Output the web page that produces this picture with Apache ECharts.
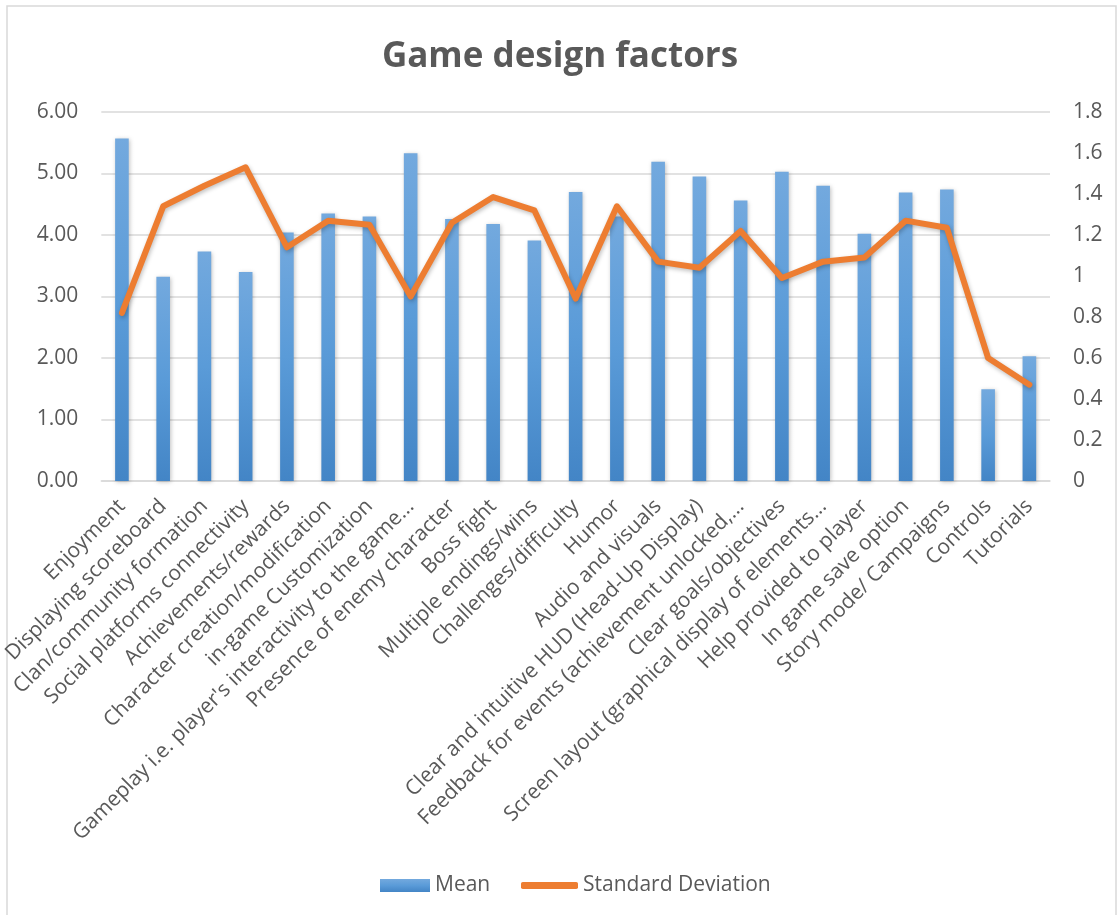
<!DOCTYPE html>
<html>
<head>
<meta charset="utf-8">
<script src="https://cdn.jsdelivr.net/npm/echarts@6/dist/echarts.min.js"></script>
<style>
  html, body { margin: 0; padding: 0; background: #ffffff; }
  #chart { width: 1120px; height: 915px; }
</style>
</head>
<body>
<div id="chart"></div>
<script>
// Survey results: mean rating and standard deviation per game design factor
const categories = [
  'Enjoyment',
  'Displaying scoreboard',
  'Clan/community formation',
  'Social platforms connectivity',
  'Achievements/rewards',
  'Character creation/modification',
  'in-game Customization',
  "Gameplay i.e. player's interactivity to the game...",
  'Presence of enemy character',
  'Boss fight',
  'Multiple endings/wins',
  'Challenges/difficulty',
  'Humor',
  'Audio and visuals',
  'Clear and intuitive HUD (Head-Up Display)',
  'Feedback for events (achievement unlocked,...',
  'Clear goals/objectives',
  'Screen layout (graphical display of elements...',
  'Help provided to player',
  'In game save option',
  'Story mode/ Campaigns',
  'Controls',
  'Tutorials'
];

const meanValues = [
  5.57, 3.32, 3.73, 3.40, 4.04, 4.35, 4.30, 5.33, 4.26, 4.18, 3.91, 4.70,
  4.30, 5.19, 4.95, 4.56, 5.03, 4.80, 4.02, 4.69, 4.74, 1.49, 2.03
];

const sdValues = [
  0.82, 1.34, 1.44, 1.53, 1.14, 1.27, 1.25, 0.90, 1.26, 1.385, 1.32, 0.89,
  1.34, 1.07, 1.04, 1.22, 0.99, 1.07, 1.09, 1.27, 1.235, 0.60, 0.47
];

const leftTicks = { min: 0, max: 6, step: 1 };
const rightTicks = { min: 0, max: 1.8, step: 0.2 };

const TEXT = '#595959';
const GRID = '#d9d9d9';
const FONT = '"Open Sans", "Noto Sans", sans-serif';

const chart = echarts.init(document.getElementById('chart'), null, { renderer: 'canvas' });

const barGradient = new echarts.graphic.LinearGradient(0, 0, 0, 1, [
  { offset: 0, color: '#73a9de' },
  { offset: 0.5, color: '#5a9bd8' },
  { offset: 1, color: '#4385c6' }
]);

chart.setOption({
  backgroundColor: '#ffffff',
  animation: false,
  textStyle: { fontFamily: FONT },
  graphic: [{
    type: 'rect',
    shape: { x: 7, y: 6, width: 1109, height: 915 },
    style: { fill: 'none', stroke: GRID, lineWidth: 1.5 },
    silent: true,
    z: -1
  }],
  title: {
    text: 'Game design factors',
    left: 'center',
    top: 35,
    textStyle: { color: TEXT, fontSize: 35, fontWeight: 'bold', fontFamily: FONT }
  },
  legend: [{
    data: [{ name: 'Mean', icon: 'rect' }],
    left: 375,
    top: 870,
    itemWidth: 50,
    itemHeight: 13,
    textStyle: { color: TEXT, fontSize: 21, fontFamily: FONT }
  }, {
    data: [{ name: 'Standard Deviation', icon: 'roundRect' }],
    left: 516,
    top: 870,
    itemWidth: 57,
    itemHeight: 7,
    textStyle: { color: TEXT, fontSize: 21, fontFamily: FONT }
  }],
  grid: { left: 90, right: 70, top: 112, bottom: 434, containLabel: false },
  xAxis: {
    type: 'category',
    data: categories,
    axisLine: { lineStyle: { color: GRID, width: 1.5 } },
    axisTick: { show: false },
    axisLabel: {
      interval: 0,
      rotate: 45,
      color: TEXT,
      fontSize: 21,
      fontFamily: FONT,
      margin: 22
    }
  },
  yAxis: [{
    type: 'value',
    min: leftTicks.min,
    max: leftTicks.max,
    interval: leftTicks.step,
    axisLine: { show: false },
    axisTick: { show: false },
    splitLine: { lineStyle: { color: GRID, width: 1.5 } },
    axisLabel: {
      color: TEXT, fontSize: 21, fontFamily: FONT, margin: 23,
      formatter: v => v.toFixed(2)
    }
  }, {
    type: 'value',
    min: rightTicks.min,
    max: rightTicks.max,
    interval: rightTicks.step,
    axisLine: { show: false },
    axisTick: { show: false },
    splitLine: { show: false },
    axisLabel: {
      color: TEXT, fontSize: 21, fontFamily: FONT, margin: 23,
      formatter: v => String(Math.round(v * 10) / 10)
    }
  }],
  series: [{
    name: 'Mean',
    type: 'bar',
    yAxisIndex: 0,
    data: meanValues,
    barWidth: '33%',
    itemStyle: {
      color: barGradient,
      shadowColor: 'rgba(0,0,0,0.25)',
      shadowBlur: 4,
      shadowOffsetX: 1,
      shadowOffsetY: 1
    }
  }, {
    name: 'Standard Deviation',
    type: 'line',
    yAxisIndex: 1,
    data: sdValues,
    showSymbol: false,
    symbol: 'none',
    itemStyle: { color: '#ed7d31' },
    lineStyle: {
      color: '#ed7d31',
      width: 6,
      join: 'round',
      cap: 'round',
      shadowColor: 'rgba(0,0,0,0.25)',
      shadowBlur: 4,
      shadowOffsetX: 1,
      shadowOffsetY: 2
    },
    z: 3
  }]
});
</script>
</body>
</html>
